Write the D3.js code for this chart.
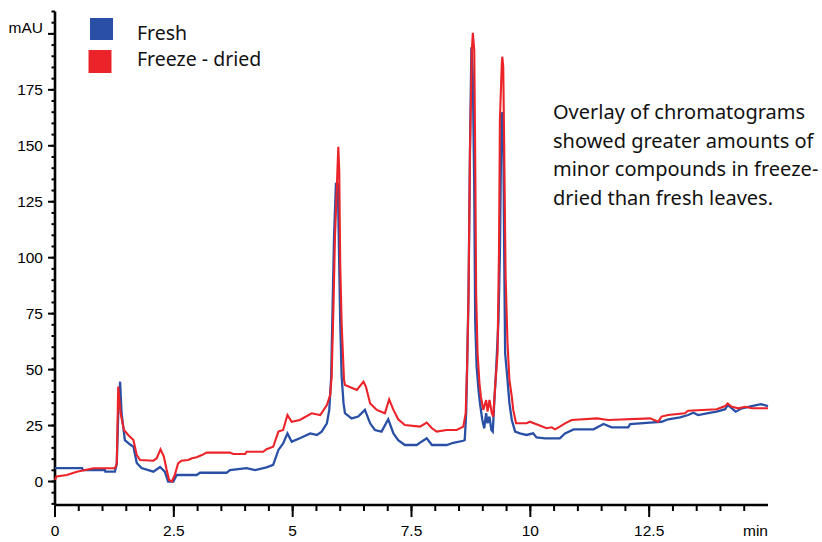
<!DOCTYPE html>
<html>
<head>
<meta charset="utf-8">
<script src="https://cdn.jsdelivr.net/npm/d3@7"></script>
<style>
  body { margin: 0; background: #fff; }
  svg { display: block; }
</style>
</head>
<body>
<svg id="chart"></svg>
<script>
const freshTime = [0, 0.57, 0.58, 1.05, 1.06, 1.26, 1.30, 1.33, 1.37, 1.40, 1.47, 1.58, 1.65, 1.72, 1.82, 2.07, 2.21, 2.31, 2.38, 2.49, 2.56, 2.98, 3.05, 3.61, 3.68, 4.03, 4.21, 4.45, 4.59, 4.70, 4.80, 4.89, 4.98, 5.15, 5.37, 5.51, 5.61, 5.72, 5.77, 5.81, 5.84, 5.87, 5.91, 5.95, 5.97, 6.00, 6.03, 6.07, 6.10, 6.24, 6.38, 6.52, 6.63, 6.73, 6.87, 7.01, 7.12, 7.22, 7.36, 7.61, 7.71, 7.82, 7.93, 8.24, 8.38, 8.59, 8.62, 8.65, 8.67, 8.70, 8.73, 8.76, 8.79, 8.82, 8.84, 8.87, 8.91, 8.94, 8.99, 9.03, 9.07, 9.10, 9.14, 9.18, 9.21, 9.24, 9.28, 9.33, 9.36, 9.38, 9.40, 9.43, 9.45, 9.47, 9.52, 9.56, 9.61, 9.68, 9.78, 9.92, 10.06, 10.13, 10.31, 10.62, 10.73, 10.91, 11.33, 11.43, 11.54, 11.71, 12.06, 12.10, 12.52, 12.76, 12.90, 13.15, 13.32, 13.43, 13.53, 13.74, 13.92, 14.10, 14.15, 14.24, 14.32, 14.45, 14.66, 14.85, 15.0];
const freshValue = [6.0, 6.0, 5.1, 5.1, 4.4, 4.4, 8, 30, 44.6, 30.6, 18.5, 16.5, 15.5, 8.3, 6.0, 4.4, 6.5, 4.4, 0, 0, 2.9, 2.9, 3.9, 3.9, 5.1, 6.0, 5.1, 6.3, 7.4, 14.1, 17, 21.5, 17.8, 19.3, 21.5, 20.8, 22.3, 26, 32, 46.8, 78, 109, 133, 133, 109, 72, 47, 35, 30.5, 28.2, 29, 32, 26, 23, 22.3, 27.8, 21.5, 18.5, 16.3, 16.3, 17.8, 19.3, 16.3, 16.3, 17.3, 18.2, 18.5, 30.5, 51, 84, 146.6, 194, 181, 131.7, 72, 51.3, 40.9, 35, 27.5, 23.8, 30.5, 26, 29, 23, 22.3, 35, 49.8, 72, 102, 140.7, 165, 158.5, 102, 57.3, 45.4, 35, 27.5, 22.3, 21.5, 20.8, 21.5, 19.7, 19.3, 19.3, 21.5, 23.3, 23.3, 24.5, 25.7, 24.2, 24.2, 25.7, 26.3, 26.7, 27.8, 28.7, 29.7, 30.7, 29.7, 30.5, 31.2, 32.3, 34.2, 32.7, 31.2, 32.7, 33.7, 34.6, 33.7];

const driedTime = [0, 0.03, 0.25, 0.46, 0.81, 1.26, 1.30, 1.33, 1.38, 1.45, 1.54, 1.65, 1.72, 1.79, 2.07, 2.14, 2.22, 2.29, 2.35, 2.40, 2.46, 2.52, 2.59, 2.66, 2.80, 2.88, 2.98, 3.09, 3.19, 3.68, 3.75, 4.00, 4.03, 4.38, 4.45, 4.59, 4.70, 4.80, 4.89, 4.98, 5.15, 5.40, 5.58, 5.72, 5.79, 5.82, 5.86, 5.89, 5.93, 5.96, 5.98, 6.00, 6.03, 6.08, 6.10, 6.35, 6.49, 6.54, 6.63, 6.77, 6.94, 7.03, 7.12, 7.22, 7.36, 7.68, 7.82, 7.93, 8.03, 8.24, 8.45, 8.59, 8.64, 8.67, 8.70, 8.73, 8.77, 8.79, 8.82, 8.84, 8.86, 8.89, 8.93, 8.96, 9.01, 9.07, 9.10, 9.14, 9.19, 9.22, 9.26, 9.31, 9.34, 9.36, 9.40, 9.41, 9.43, 9.45, 9.48, 9.52, 9.56, 9.61, 9.64, 9.70, 9.92, 9.99, 10.17, 10.34, 10.45, 10.52, 10.62, 10.73, 10.87, 11.40, 11.64, 12.52, 12.69, 12.76, 12.90, 13.25, 13.32, 13.92, 14.10, 14.15, 14.24, 14.38, 14.52, 14.66, 15.0];
const driedValue = [0.7, 2.2, 2.9, 4.4, 5.9, 5.9, 8.1, 42.4, 30.5, 23, 20.8, 18.5, 11.8, 9.6, 9.3, 10.4, 14.4, 11.1, 5.1, 0.7, 0, 2.9, 8.1, 9.3, 9.6, 10.4, 10.8, 11.8, 12.9, 12.9, 12.3, 12.3, 13.3, 13.3, 14.4, 15.5, 22.3, 23, 29.7, 26.7, 27.5, 30.5, 29.7, 34.2, 38.7, 46.8, 79.6, 109.4, 131.7, 149.6, 139, 97.5, 70.7, 45.4, 43.1, 40.9, 44.6, 42.4, 34.9, 32, 30.5, 36.7, 32, 27.8, 25.2, 24.5, 26.3, 23.8, 22.3, 23, 23, 24.5, 30.5, 51.3, 84, 148, 192.8, 200.5, 192.8, 146.6, 84, 57.3, 43.9, 37.9, 32, 36.4, 31.2, 36.4, 30.5, 29, 42.4, 57.3, 102, 161.5, 186.9, 189.8, 185.3, 149.6, 91.5, 61.8, 45.4, 37.9, 32, 26, 26, 26.7, 25.2, 23.8, 24.2, 23.3, 24.5, 26, 27.5, 28.2, 27.5, 28.2, 26.7, 29, 29.7, 30.5, 31.6, 32.3, 33.7, 34.9, 33.4, 32.7, 33.4, 32.7, 32.7];

const seriesNames = ['Fresh', 'Freeze - dried'];
const seriesColors = ['#2a50a6', '#ec2328'];
const xTickLabels = ['0', '2.5', '5', '7.5', '10', '12.5', 'min'];
const yTickLabels = ['0', '25', '50', '75', '100', '125', '150', '175', 'mAU'];
const noteLines = ['Overlay of chromatograms', 'showed greater amounts of', 'minor compounds in freeze-', 'dried than fresh leaves.'];

const width = 822, height = 542;
const svg = d3.select('#chart').attr('width', width).attr('height', height);

const x = d3.scaleLinear().domain([0, 15]).range([55, 768]);
const y = d3.scaleLinear().domain([-10.5, 210]).range([505, 11.5]);

// axes: minor ticks first, then labelled majors
const xMinor = d3.range(0, 15, 0.5);
const xMajor = d3.range(0, 15.01, 2.5);
const yMinor = d3.range(-10, 210.1, 5);
const yMajor = d3.range(0, 200.1, 25);

const axisG = svg.append('g').attr('stroke', '#000').attr('stroke-width', 2);
axisG.append('line').attr('x1', x(0)).attr('x2', x(15)).attr('y1', y(-10.5)).attr('y2', y(-10.5)).attr('stroke-width', 2.6);
axisG.append('line').attr('x1', x(0)).attr('x2', x(0)).attr('y1', y(-10.5)).attr('y2', y(210)).attr('stroke-width', 2.6);

axisG.selectAll('.xminor').data(xMinor).enter().append('line')
  .attr('x1', d => x(d)).attr('x2', d => x(d))
  .attr('y1', y(-10.5)).attr('y2', y(-10.5) + 6);
axisG.selectAll('.xmajor').data(xMajor.slice(0, -1)).enter().append('line')
  .attr('x1', d => x(d)).attr('x2', d => x(d))
  .attr('y1', y(-10.5)).attr('y2', y(-10.5) + 12);
axisG.selectAll('.yminor').data(yMinor).enter().append('line')
  .attr('x1', x(0) - 3.5).attr('x2', x(0))
  .attr('y1', d => y(d)).attr('y2', d => y(d));
axisG.selectAll('.ymajor').data(yMajor).enter().append('line')
  .attr('x1', x(0) - 7).attr('x2', x(0))
  .attr('y1', d => y(d)).attr('y2', d => y(d));

const tickFont = "'Liberation Sans', Arial, sans-serif";
svg.selectAll('.xlabel').data(xMajor).enter().append('text')
  .attr('x', d => x(d))
  .attr('y', 536)
  .attr('text-anchor', (d, i) => i === xMajor.length - 1 ? 'end' : 'middle')
  .attr('font-family', tickFont).attr('font-size', 15.5)
  .attr('fill', '#000')
  .text((d, i) => xTickLabels[i]);

svg.selectAll('.ylabel').data(yMajor).enter().append('text')
  .attr('x', 43)
  .attr('y', (d, i) => y(d) + (i === yMajor.length - 1 ? -1 : 5.5))
  .attr('text-anchor', 'end')
  .attr('font-family', tickFont).attr('font-size', 15.5)
  .attr('fill', '#000')
  .text((d, i) => yTickLabels[i]);

// traces
const line = d3.line().x(d => x(d[0])).y(d => y(d[1]));
const fresh = d3.zip(freshTime, freshValue);
const dried = d3.zip(driedTime, driedValue);

svg.append('path').datum(fresh)
  .attr('d', line).attr('fill', 'none')
  .attr('stroke', seriesColors[0]).attr('stroke-width', 2.3)
  .attr('stroke-linejoin', 'miter');
svg.append('path').datum(dried)
  .attr('d', line).attr('fill', 'none')
  .attr('stroke', seriesColors[1]).attr('stroke-width', 2.1)
  .attr('stroke-linejoin', 'miter');

// legend
const textFont = "'Noto Sans', 'Open Sans', sans-serif";
const legend = svg.append('g');
legend.selectAll('rect').data(seriesNames).enter().append('rect')
  .attr('x', (d, i) => i === 0 ? 90 : 88.5)
  .attr('y', (d, i) => i === 0 ? 18 : 50)
  .attr('width', 23).attr('height', (d, i) => i === 0 ? 22 : 23)
  .attr('fill', (d, i) => seriesColors[i]);
legend.selectAll('text').data(seriesNames).enter().append('text')
  .attr('x', 137)
  .attr('y', (d, i) => i === 0 ? 39.5 : 66)
  .attr('font-family', textFont).attr('font-size', 19.5)
  .attr('fill', '#111')
  .text(d => d);

// annotation
svg.append('g').selectAll('text').data(noteLines).enter().append('text')
  .attr('x', 553)
  .attr('y', (d, i) => 119 + i * 28.5)
  .attr('font-family', textFont).attr('font-size', 20)
  .attr('fill', '#111')
  .text(d => d);
</script>
</body>
</html>
